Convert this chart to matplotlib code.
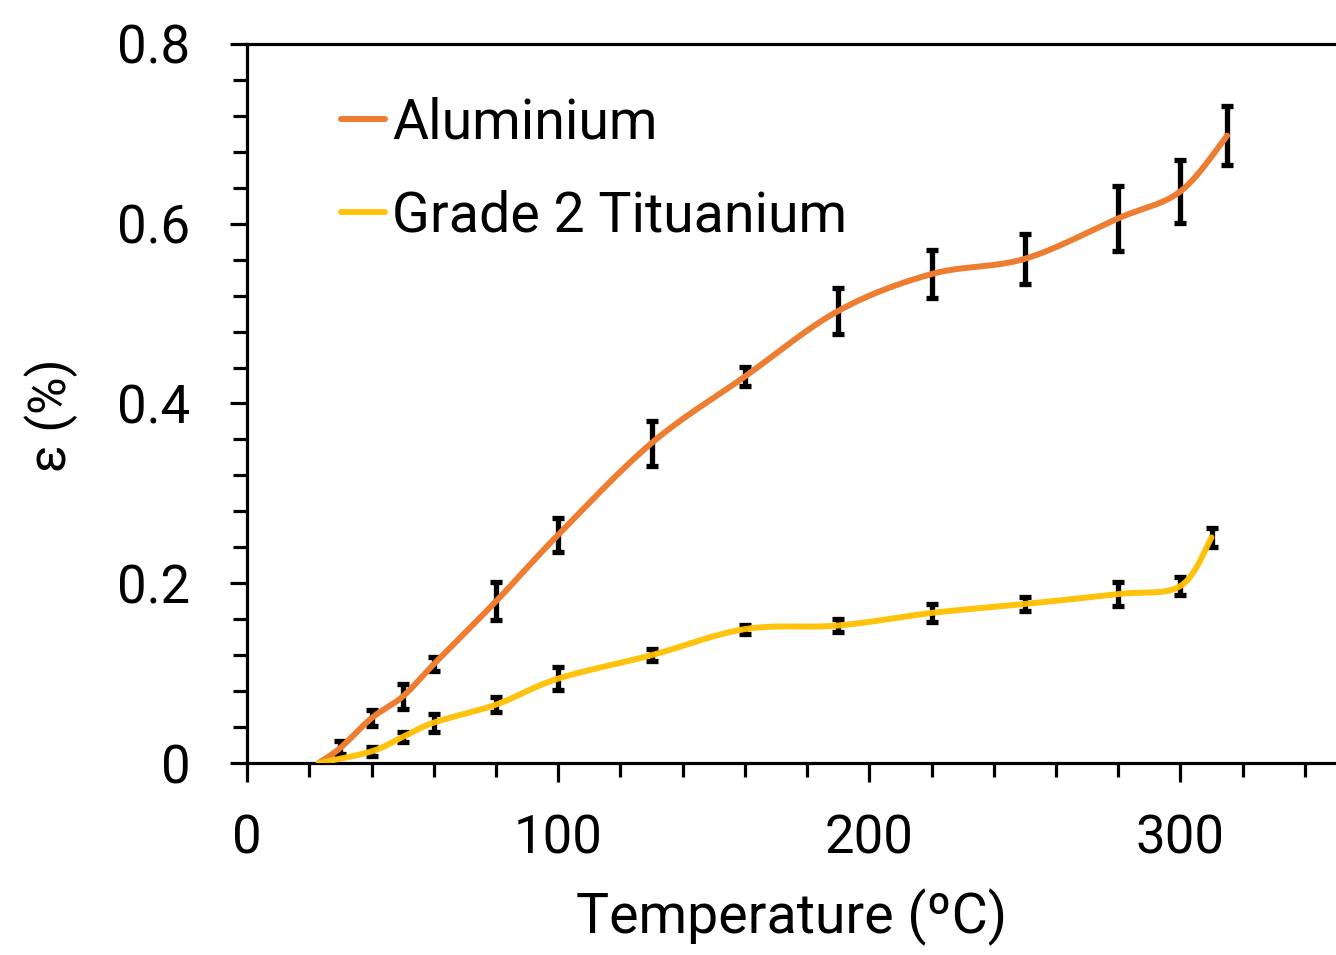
import numpy as np
import matplotlib
matplotlib.use('Agg')
import matplotlib.pyplot as plt
from matplotlib.ticker import MultipleLocator

plt.rcParams['font.family'] = ['Roboto', 'DejaVu Sans']

# data
al_temp = [23, 30, 40, 50, 60, 80, 100, 130, 160, 190, 220, 250, 280, 300, 315]
al_eps = [0.0, 0.017, 0.05, 0.074, 0.110, 0.180, 0.254, 0.356, 0.430, 0.503, 0.544, 0.561, 0.606, 0.636, 0.698]
al_err = [0.0, 0.007, 0.009, 0.014, 0.008, 0.021, 0.019, 0.025, 0.011, 0.026, 0.027, 0.028, 0.036, 0.035, 0.033]

ti_temp = [23, 40, 50, 60, 80, 100, 130, 160, 190, 220, 250, 280, 300, 310]
ti_eps = [0.0, 0.013, 0.029, 0.045, 0.065, 0.094, 0.120, 0.149, 0.153, 0.167, 0.177, 0.188, 0.197, 0.251]
ti_err = [0.0, 0.005, 0.006, 0.010, 0.008, 0.0125, 0.007, 0.005, 0.007, 0.010, 0.008, 0.013, 0.0105, 0.0105]

AL_COLOR = '#ED7D31'
TI_COLOR = '#FFC000'


def smooth(xs, ys, n=40):
    '''Excel-style smoothed line: cubic bezier with 1/6 tangents'''
    p = np.column_stack([xs, ys]).astype(float)
    p = np.vstack([p[0], p, p[-1]])
    out = []
    t = np.linspace(0, 1, n)[:, None]
    for i in range(1, len(p) - 2):
        p0, p3 = p[i], p[i + 1]
        c1 = p0 + (p[i + 1] - p[i - 1]) / 6
        c2 = p3 - (p[i + 2] - p[i]) / 6
        seg = ((1 - t) ** 3) * p0 + 3 * ((1 - t) ** 2) * t * c1 + 3 * (1 - t) * t ** 2 * c2 + t ** 3 * p3
        out.append(seg)
    out = np.vstack(out)
    return out[:, 0], out[:, 1]


fig = plt.figure(figsize=(13.36, 9.55), dpi=100)
ax = fig.add_axes([0.185, 0.201, 0.815, 0.753])

for xs, ys, es in [(al_temp, al_eps, al_err), (ti_temp, ti_eps, ti_err)]:
    ax.errorbar(xs[1:], ys[1:], yerr=es[1:], fmt='none', ecolor='black',
                elinewidth=3.8, capsize=4.5, capthick=3.8, zorder=2)

sx, sy = smooth(al_temp, al_eps)
ax.plot(sx, sy, color=AL_COLOR, lw=4.3, solid_capstyle='round', label='Aluminium', zorder=3)
sx, sy = smooth(ti_temp, ti_eps)
ax.plot(sx, sy, color=TI_COLOR, lw=4.3, solid_capstyle='round', label='Grade 2 Tituanium',
        alpha=0.95, zorder=3)

ax.set_xlim(0, 350)
ax.set_ylim(0, 0.8)
ax.xaxis.set_major_locator(MultipleLocator(100))
ax.xaxis.set_minor_locator(MultipleLocator(20))
ax.yaxis.set_major_locator(MultipleLocator(0.2))
ax.yaxis.set_minor_locator(MultipleLocator(0.04))
ax.set_yticks([0, 0.2, 0.4, 0.6, 0.8])
ax.set_yticklabels(['0', '0.2', '0.4', '0.6', '0.8'])

for s in ['left', 'bottom', 'top']:
    ax.spines[s].set_linewidth(2.3)
ax.spines['right'].set_visible(False)

ax.tick_params(which='major', axis='x', length=13.5, width=2.3, labelsize=38, pad=23)
ax.tick_params(which='minor', axis='x', length=10, width=2.3)
ax.tick_params(which='major', axis='y', length=12, width=2.3, labelsize=38, pad=29)
ax.tick_params(which='minor', axis='y', length=10, width=2.3)

ax.set_xlabel('Temperature (ºC)', fontsize=40, labelpad=17)
ax.set_ylabel('ε (%)', fontsize=37)
ax.yaxis.set_label_coords(-0.155, 0.484)

leg = ax.legend(loc='upper left', bbox_to_anchor=(0.066, 0.958), frameon=False, fontsize=40,
                handlelength=0.78, handletextpad=0.13, labelspacing=0.73, borderaxespad=0)

fig.savefig('out.png', dpi=100)
